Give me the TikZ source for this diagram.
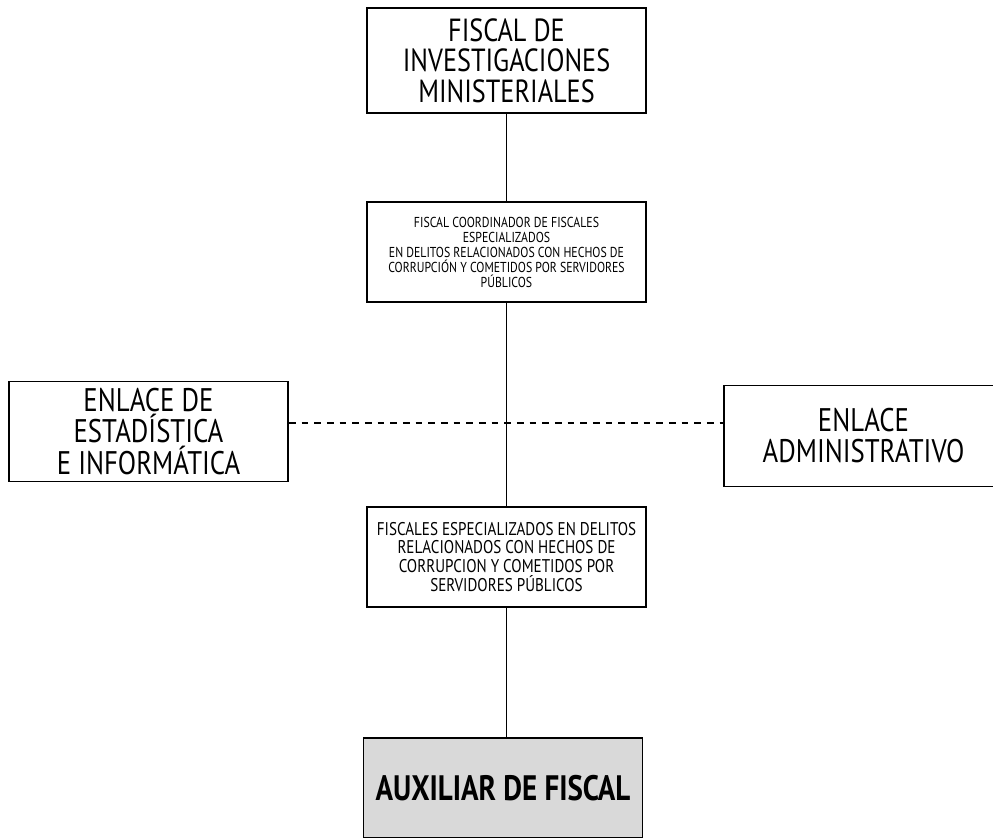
\documentclass[tikz,border=0pt]{standalone}
\usepackage{fontspec}
\setmainfont{PT Sans}[FakeStretch=0.82]
\tikzset{
  cargo/.style={draw, line width=1.3pt, align=center, inner sep=0.75pt,
    minimum width=209.25pt, minimum height=75pt},
  linea/.style={line width=1.3pt},
}
\begin{document}
\begin{tikzpicture}[x=0.75pt,y=0.75pt,yscale=-1,xscale=1]
\useasboundingbox (0,0) rectangle (993,838);
\begin{scope}
\clip (0,0) rectangle (993,838);

%Shape: Rectangle [id:fiscal]
\node [cargo, minimum height=78.75pt, font=\fontsize{24}{22.8}\selectfont] (fiscal) at (506.5,60.5)
  {FISCAL DE\\INVESTIGACIONES\\MINISTERIALES};
%Shape: Rectangle [id:coord]
\node [cargo, font=\fontsize{10.8}{11.25}\selectfont] (coord) at (506.5,252)
  {FISCAL COORDINADOR DE FISCALES\\ESPECIALIZADOS\\EN DELITOS RELACIONADOS CON HECHOS DE\\CORRUPCIÓN Y COMETIDOS POR SERVIDORES\\PÚBLICOS};
%Shape: Rectangle [id:estad]
\node [cargo, font=\fontsize{24.5}{23.3}\selectfont] (estad) at (148.5,431.5)
  {ENLACE DE\\ESTADÍSTICA\\E INFORMÁTICA};
%Shape: Rectangle [id:admin]
\node [cargo, minimum height=75.75pt, font=\fontsize{24.5}{23.3}\selectfont] (admin) at (863.5,436)
  {ENLACE\\ADMINISTRATIVO};
%Shape: Rectangle [id:fiscales]
\node [cargo, font=\fontsize{13.8}{14.2}\selectfont] (fiscales) at (506.5,557)
  {FISCALES ESPECIALIZADOS EN DELITOS\\RELACIONADOS CON HECHOS DE\\CORRUPCION Y COMETIDOS POR\\SERVIDORES PÚBLICOS};
%Shape: Rectangle [id:aux]
\node [cargo, fill={rgb, 255:red, 217; green, 217; blue, 217}, font=\fontsize{26.5}{23.5}\selectfont\bfseries] (aux) at (503,788)
  {AUXILIAR DE FISCAL};

%Straight Lines
\draw [linea] (fiscal) -- (coord) ;
\draw [linea] (coord) -- (fiscales) ;
\draw [linea] (fiscales.south) -- (fiscales.south |- aux.north) ;
%Dashed Lines
\draw [linea, dash pattern=on 5pt off 4.5pt] ([yshift=-6.5pt]estad.east) -- ([yshift=-6.5pt]estad.east -| admin.west) ;
\end{scope}

\end{tikzpicture}
\end{document}
